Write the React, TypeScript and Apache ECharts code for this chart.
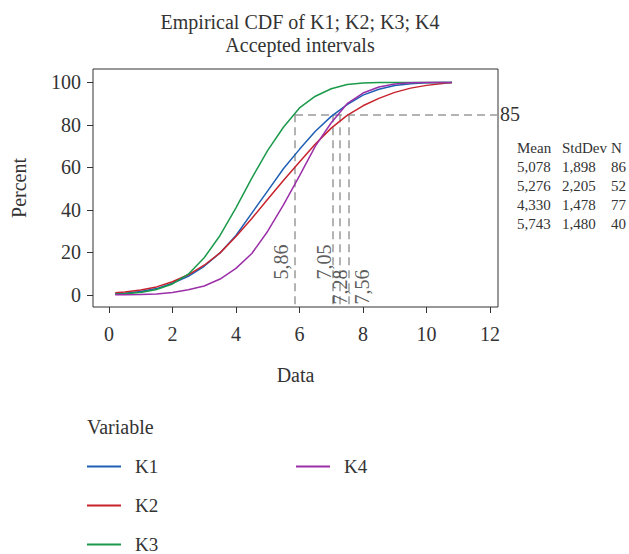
import React, { useEffect, useRef } from "react";
import * as echarts from "echarts";

// ---- data ----
const X_VALUES = [0.2, 0.5, 1, 1.5, 2, 2.5, 3, 3.5, 4, 4.5, 5, 5.5, 6, 6.5, 7, 7.5, 8, 8.5, 9, 9.5, 10, 10.5, 10.8];
const K1 = [0.5, 0.8, 1.6, 3.0, 5.5, 8.8, 13.5, 19.8, 28, 38.5, 49, 59.5, 68.5, 77, 84, 89.5, 94, 96.8, 98.5, 99.4, 99.8, 100, 100];
const K2 = [1.0, 1.4, 2.3, 3.8, 6.2, 9.5, 14, 19.8, 27.5, 36, 45, 54, 62.5, 71, 78.5, 84.5, 89, 92.5, 95.3, 97.3, 98.6, 99.5, 100];
const K3 = [0.4, 0.6, 1.2, 2.6, 5.2, 9.8, 17.5, 28, 41, 55, 68, 79, 88, 93.5, 97, 99, 99.7, 100, 100, 100, 100, 100, 100];
const K4 = [0.1, 0.1, 0.2, 0.5, 1.2, 2.5, 4.2, 7.5, 12.5, 19.5, 30, 42.5, 56, 70, 81, 90, 95, 97.8, 99.2, 99.8, 100, 100, 100];
const SERIES_NAMES = ["K1", "K2", "K3", "K4"];
const SERIES_VALUES = [K1, K2, K3, K4];

const PERCENT_LEVEL = 85;
const PERCENTILE_X = [5.86, 7.05, 7.28, 7.56];

const X_TICKS = [0, 2, 4, 6, 8, 10, 12];
const Y_TICKS = [0, 20, 40, 60, 80, 100];

const STAT_HEADERS = ["Mean", "StdDev", "N"];
const MEANS = ["5,078", "5,276", "4,330", "5,743"];
const STDEVS = ["1,898", "2,205", "1,478", "1,480"];
const NS = ["86", "52", "77", "40"];

// ---- styling / layout (not data) ----
const COLORS = ["#1f5fb5", "#c7232d", "#1a9a4a", "#9b2fa8"];
const FONT = "'Liberation Serif', 'Times New Roman', serif";
const TEXT = "#333333";
const X_MIN = -0.5;
const X_MAX = 12.25;
const Y_MIN = -5.65;
const Y_MAX = 106.3;
const PCT_LABEL_Y = [15.5, 15.5, 3.8, 3.8];
const PCT_LABEL_DX = [-14, -9, 0, 13];

export default function App() {
  const ref = useRef<HTMLDivElement>(null);

  useEffect(() => {
    if (!ref.current) return;
    const chart = echarts.init(ref.current, undefined, { renderer: "svg" });

    const lineSeries = SERIES_NAMES.map((name, i) => ({
      name,
      type: "line",
      data: X_VALUES.map((x, j) => [x, SERIES_VALUES[i][j]]),
      showSymbol: false,
      smooth: false,
      lineStyle: { color: COLORS[i], width: 1.5 },
      itemStyle: { color: COLORS[i] },
      z: 3,
    }));

    const refLineStyle = { color: "#9a9a9a", type: [8, 5], width: 1.5 };
    const markData: any[] = [
      [
        {
          coord: [Math.min(...PERCENTILE_X), PERCENT_LEVEL],
          label: {
            show: true,
            position: "end",
            formatter: String(PERCENT_LEVEL),
            fontFamily: FONT,
            fontSize: 20,
            color: TEXT,
            distance: 2,
          },
        },
        { coord: [X_MAX, PERCENT_LEVEL] },
      ],
      ...PERCENTILE_X.map((x) => [
        { coord: [x, PERCENT_LEVEL], label: { show: false } },
        { coord: [x, Y_MIN] },
      ]),
    ];

    const refSeries = {
      name: "ref",
      type: "line",
      data: [],
      silent: true,
      markLine: {
        silent: true,
        symbol: ["none", "none"],
        lineStyle: refLineStyle,
        label: { show: false },
        data: markData,
        z: 2,
      },
    };

    // rotated label: text +y axis points to screen right
    const pctLabelSeries = {
      name: "pctLabels",
      type: "scatter",
      silent: true,
      symbolSize: 1,
      itemStyle: { color: "rgba(0,0,0,0)" },
      data: PERCENTILE_X.map((x, i) => ({
        value: [x, PCT_LABEL_Y[i]],
        name: String(x).replace(".", ","),
        label: { offset: [0, PCT_LABEL_DX[i]] },
      })),
      label: {
        show: true,
        position: "inside",
        rotate: 90,
        formatter: (p: any) => p.name,
        fontFamily: FONT,
        fontSize: 20,
        color: TEXT,
      },
      z: 4,
    };

    const colText = (x: number, lines: string[]) => ({
      type: "text",
      left: x,
      top: 138,
      style: {
        text: lines.join("\n"),
        font: `15px ${FONT}`,
        fill: TEXT,
        lineHeight: 19.2,
      },
    });

    const legendCommon = {
      orient: "vertical",
      top: 457,
      height: 97,
      padding: 0,
      itemWidth: 34,
      itemHeight: 2,
      itemGap: 20,
      icon: "rect",
      selectedMode: false,
      textStyle: { fontFamily: FONT, fontSize: 19, color: TEXT, padding: [0, 0, 0, 9] },
    };

    chart.setOption({
      animation: false,
      backgroundColor: "#ffffff",
      title: {
        text: "Empirical CDF of K1; K2; K3; K4\nAccepted intervals",
        left: 295,
        top: 5,
        textAlign: "center",
        textStyle: {
          fontFamily: FONT,
          fontSize: 20,
          fontWeight: "normal",
          color: TEXT,
          lineHeight: 23,
        },
      },
      grid: {
        left: 93,
        top: 69,
        right: 131,
        bottom: 247,
        show: true,
        borderColor: "#333333",
        borderWidth: 1,
        backgroundColor: "transparent",
      },
      xAxis: {
        type: "value",
        min: X_MIN,
        max: X_MAX,
        name: "Data",
        nameLocation: "middle",
        nameGap: 58,
        nameTextStyle: { fontFamily: FONT, fontSize: 20, color: TEXT },
        axisLine: { show: false, onZero: false },
        splitLine: { show: false },
        axisTick: {
          show: true,
          inside: false,
          length: 6,
          customValues: X_TICKS,
          lineStyle: { color: "#333333", width: 1 },
        },
        axisLabel: {
          customValues: X_TICKS,
          margin: 17,
          fontFamily: FONT,
          fontSize: 20,
          color: TEXT,
        },
      },
      yAxis: {
        type: "value",
        min: Y_MIN,
        max: Y_MAX,
        name: "Percent",
        nameLocation: "middle",
        nameRotate: 90,
        nameGap: 64,
        nameTextStyle: { fontFamily: FONT, fontSize: 20, color: TEXT },
        axisLine: { show: false, onZero: false },
        splitLine: { show: false },
        axisTick: {
          show: true,
          inside: false,
          length: 6,
          customValues: Y_TICKS,
          lineStyle: { color: "#333333", width: 1 },
        },
        axisLabel: {
          customValues: Y_TICKS,
          margin: 12,
          fontFamily: FONT,
          fontSize: 20,
          color: TEXT,
        },
      },
      legend: [
        { ...legendCommon, data: SERIES_NAMES.slice(0, 3), left: 87 },
        { ...legendCommon, data: SERIES_NAMES.slice(3), left: 296 },
      ],
      graphic: [
        {
          type: "text",
          left: 87,
          top: 417,
          style: { text: "Variable", font: `20px ${FONT}`, fill: TEXT },
        },
        colText(517, [STAT_HEADERS[0], ...MEANS]),
        colText(562, [STAT_HEADERS[1], ...STDEVS]),
        colText(611, [STAT_HEADERS[2], ...NS]),
      ],
      series: [...lineSeries, refSeries, pctLabelSeries],
    });

    return () => chart.dispose();
  }, []);

  return (
    <div
      ref={ref}
      style={{ position: "fixed", left: 0, top: 0, width: 629, height: 554, background: "#fff" }}
    />
  );
}
